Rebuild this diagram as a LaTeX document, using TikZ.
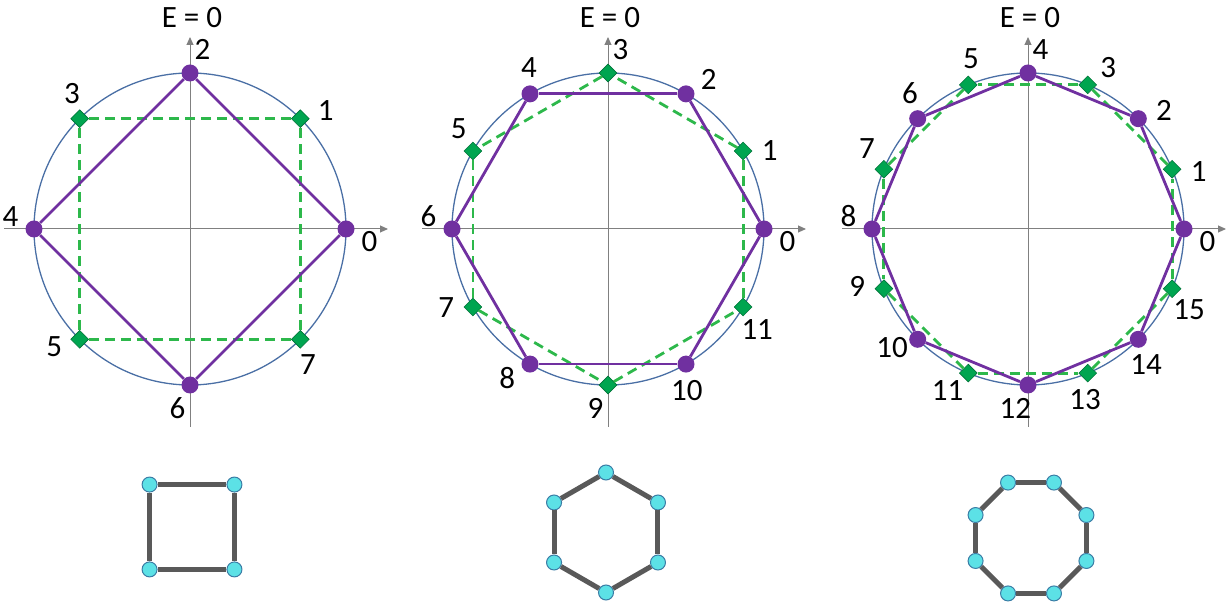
\documentclass[tikz,border=0pt]{standalone}
\usepackage{fontspec}
\setmainfont{Carlito}
\usetikzlibrary{arrows.meta,shapes.geometric}

\definecolor{ringblue}{HTML}{4A6FA5}
\definecolor{axisgray}{HTML}{808080}
\definecolor{evenpurple}{HTML}{7030A0}
\definecolor{oddgreen}{HTML}{00A550}
\definecolor{dashgreen}{HTML}{2DB84B}
\definecolor{bondgray}{HTML}{595959}
\definecolor{sitecyan}{HTML}{5CE1E6}
\definecolor{siteblue}{HTML}{3A7CA5}

\tikzset{
  ring/.style={draw=ringblue,line width=1.3pt},
  axis/.style={draw=axisgray,line width=1pt,-{Triangle[length=8pt,width=7pt]}},
  evendot/.style={circle,fill=evenpurple,inner sep=0pt,minimum size=17pt},
  odddot/.style={diamond,fill=oddgreen,draw=oddgreen!70!black,line width=.6pt,inner sep=0pt,minimum size=18pt},
  evenline/.style={draw=evenpurple,line width=2.8pt},
  oddline/.style={draw=dashgreen,line width=2.8pt,dash pattern=on 10pt off 6pt},
  numlabel/.style={inner sep=0pt,font=\fontsize{31}{37}\selectfont},
  site/.style={circle,fill=sitecyan,draw=siteblue,line width=1pt,inner sep=0pt,minimum size=15pt},
  bond/.style={draw=bondgray,line width=5pt}
}

\begin{document}
\begin{tikzpicture}[x=1pt,y=1pt]
  \useasboundingbox (0,0) rectangle (1231,607);
  \foreach \cx/\n/\id/\bx/\by in {190/8/a/192/80, 608/12/b/606/74.5, 1028/16/c/1031/69} {
    \pgfmathtruncatemacro\last{\n-1}
    \pgfmathtruncatemacro\lasteven{\n-2}
    \pgfmathtruncatemacro\m{\n/2}
    \pgfmathtruncatemacro\lastm{\m-1}
    \begin{scope}[shift={(\cx,378)}]
      \draw[ring] (0,0) circle (156);
      \draw[axis] (-186,0) -- (198,0);
      \draw[axis] (0,-198) -- (0,192);
      \node[numlabel] (\id E) at (2,211) {E = 0};
      \foreach \k in {0,...,\last} {
        \edef\dotstyle{\ifodd\k odddot\else evendot\fi}
        \node[\dotstyle] (\id\k) at ({\k*360/\n}:156) {};
        \node[numlabel] (\id l\k) at ({\k*360/\n-4}:180) {\k};
      }
      \foreach \k in {1,3,...,\last} {
        \pgfmathtruncatemacro\nxt{mod(\k+2,\n)}
        \draw[oddline] (\id\k) -- (\id\nxt);
      }
      \foreach \k in {0,2,...,\lasteven} {
        \pgfmathtruncatemacro\nxt{mod(\k+2,\n)}
        \draw[evenline] (\id\k) -- (\id\nxt);
      }
    \end{scope}
    \begin{scope}[shift={(\bx,\by)}]
      \foreach \j in {0,...,\lastm}
        \node[site] (\id s\j) at ({(2*\j+1)*180/\m}:60) {};
      \foreach \j in {0,...,\lastm} {
        \pgfmathtruncatemacro\nxt{mod(\j+1,\m)}
        \draw[bond] (\id s\j) -- (\id s\nxt);
      }
    \end{scope}
  }
\end{tikzpicture}
\end{document}
